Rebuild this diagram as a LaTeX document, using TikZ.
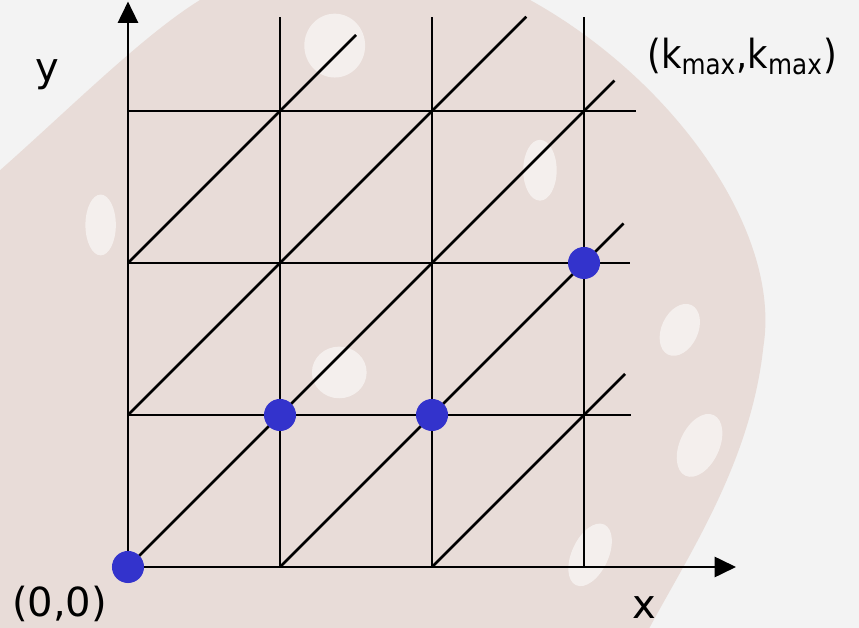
\documentclass[tikz,border=0pt]{standalone}
\usepackage{fontspec}
\setmainfont{DejaVu Sans}
\usetikzlibrary{arrows.meta}
\definecolor{dotblue}{RGB}{51,51,204}
\definecolor{bggray}{RGB}{243,243,243}
\definecolor{dicetint}{RGB}{232,220,216}

\begin{document}
\begin{tikzpicture}[x=2cm,y=2cm,line width=1pt,
  dot/.style={circle,fill=dotblue,inner sep=0pt,minimum size=12pt},
  pip/.style={white,opacity=0.55},
  lab/.style={font=\fontsize{15}{18}\selectfont}]
  % background
  \fill[bggray] (-0.842,-0.401) rectangle (4.809,3.730);
  \useasboundingbox (-0.842,-0.401) rectangle (4.809,3.730);
  \fill[dicetint] (-0.842,-0.401) -- (-0.842,2.61)
    .. controls (-0.4,3.0) and (0.1,3.5) .. (0.474,3.73) -- (2.645,3.73)
    .. controls (3.6,3.2) and (4.3,2.2) .. (4.18,1.45)
    .. controls (4.1,0.7) and (3.7,0.1) .. (3.43,-0.401) -- cycle;
  \fill[pip] (1.36,3.43) ellipse [x radius=0.2,y radius=0.21];
  \fill[pip] (-0.18,2.25) ellipse [x radius=0.1,y radius=0.2];
  \fill[pip] (1.39,1.28) ellipse [x radius=0.18,y radius=0.17];
  \fill[pip] (2.71,2.61) ellipse [x radius=0.11,y radius=0.2];
  \fill[pip,rotate around={-25:(3.63,1.56)}] (3.63,1.56) ellipse [x radius=0.12,y radius=0.18];
  \fill[pip,rotate around={-25:(3.76,0.80)}] (3.76,0.80) ellipse [x radius=0.13,y radius=0.22];
  \fill[pip,rotate around={-25:(3.04,0.08)}] (3.04,0.08) ellipse [x radius=0.12,y radius=0.22];

  % grid
  \foreach \i in {1,2,3}
    \draw (\i,0) -- (\i,3.62);
  \draw (0,1) -- (3.31,1);
  \draw (0,2) -- (3.30,2);
  \draw (0,3) -- (3.34,3);

  % diagonals
  \draw (0,0) -- (3.2,3.2);
  \draw (0,1) -- (2.62,3.62);
  \draw (0,2) -- (1.5,3.5);
  \draw (1,0) -- (3.26,2.26);
  \draw (2,0) -- (3.27,1.27);

  % axes
  \draw[-{Triangle[length=8pt,width=7.5pt]}] (0,0) -- (0,3.72);
  \draw[-{Triangle[length=8pt,width=7.5pt]}] (0,0) -- (4.0,0);

  % points
  \node[dot] (p00) at (0,0) {};
  \node[dot] (p11) at (1,1) {};
  \node[dot] (p21) at (2,1) {};
  \node[dot] (p32) at (3,2) {};

  % labels
  \node[lab] (ylab) at (-0.53,3.24) {y};
  \node[lab] (xlab) at (3.4,-0.27) {x};
  \node[lab] (orig) at (-0.45,-0.24) {(0,0)};
  \node[lab,xscale=0.88] (kmax) at (4.04,3.36) {(k\textsubscript{max},k\textsubscript{max})};
\end{tikzpicture}
\end{document}
